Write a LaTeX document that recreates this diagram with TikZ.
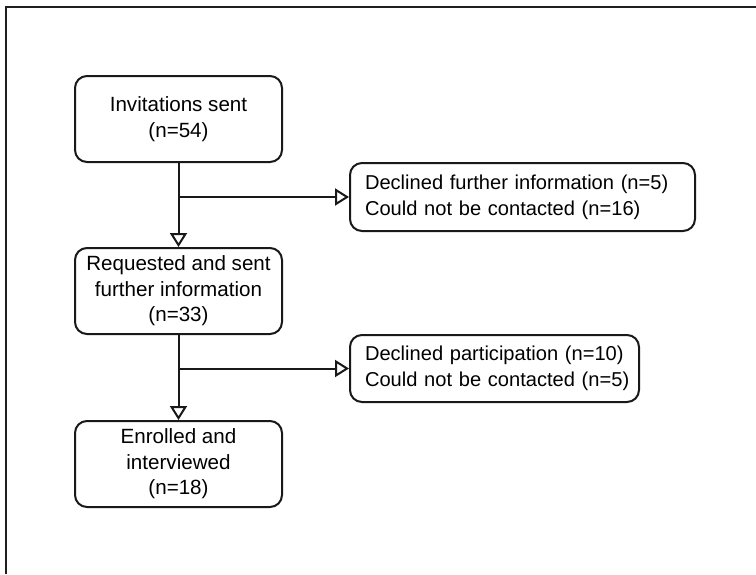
\documentclass[tikz,border=0pt]{standalone}
\usepackage{fontspec}
\setmainfont{Liberation Sans}
\usetikzlibrary{arrows.meta}
\begin{document}
\begin{tikzpicture}[x=1pt,y=-1pt,
  every node/.style={font=\fontsize{20.6pt}{25.5pt}\selectfont, text=black},
  mainbox/.style={draw=black!90, line width=2pt, rounded corners=12pt, minimum width=207pt, minimum height=86pt, align=center, inner sep=0pt},
  sidebox/.style={draw=black!90, line width=2pt, rounded corners=12pt, align=left, inner xsep=15pt, inner ysep=0pt, font=\fontsize{20.1pt}{26pt}\selectfont},
  conn/.style={draw=black!90, line width=2pt, -{Triangle[open, length=14pt, width=17pt, fill=white]}}
]
\useasboundingbox (0,0) rectangle (756,574);
\draw[line width=2pt, black!88] (6,574) -- (6,6.5) -- (756,6.5);

\node[mainbox] (b1) at (178.5,119) {Invitations sent\\(n=54)};
\node[mainbox] (b3) at (178.5,291) {Requested and sent\\further information\\(n=33)};
\node[mainbox] (b5) at (178.5,464) {Enrolled and\\interviewed\\(n=18)};

\node[sidebox, text width=315pt, minimum height=68pt] (d1) at (522.5,197) {\mbox{Declined further information (n=5)}\\\mbox{Could not be contacted (n=16)}};
\node[sidebox, text width=259pt, minimum height=67pt] (d2) at (494.5,368.5) {\mbox{Declined participation (n=10)}\\\mbox{Could not be contacted (n=5)}};

\draw[conn] (b1.south) -- (b3.north);
\draw[conn] (b1.south |- d1.west) -- (d1.west);
\draw[conn] (b3.south) -- (b5.north);
\draw[conn] (b3.south |- d2.west) -- (d2.west);
\end{tikzpicture}
\end{document}
